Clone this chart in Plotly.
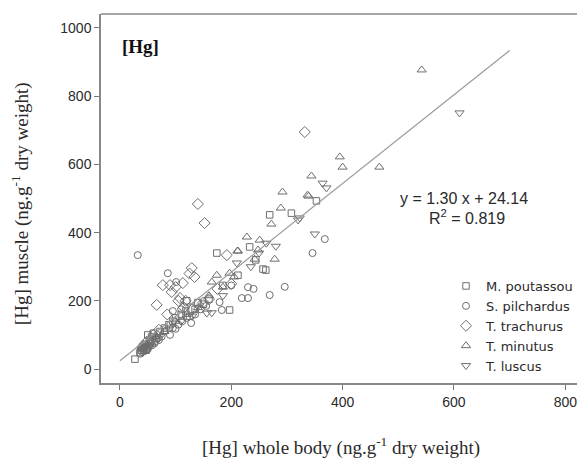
import plotly.graph_objects as go

# ---- data ----
poutassou_x = [27, 38, 42, 45, 50, 55, 60, 65, 72, 80, 88, 95, 100, 110, 118, 125, 135, 140, 150, 160, 174, 185, 197, 212, 233, 244, 257, 269, 308, 353, 262, 120, 36, 41, 47, 53, 58]
poutassou_y = [29, 55, 62, 70, 100, 75, 105, 90, 110, 120, 130, 140, 150, 160, 170, 155, 175, 195, 190, 205, 340, 245, 173, 275, 358, 320, 293, 452, 457, 493, 290, 200, 48, 66, 58, 82, 95]

pilchardus_x = [32, 40, 44, 48, 52, 58, 63, 70, 75, 80, 86, 90, 95, 100, 105, 112, 120, 128, 135, 145, 155, 179, 183, 219, 230, 269, 296, 346, 368, 95, 110, 230, 200, 240, 101, 37, 39, 43, 46, 50, 55, 62, 67]
pilchardus_y = [334, 50, 60, 55, 65, 70, 80, 85, 95, 110, 281, 100, 120, 118, 130, 140, 150, 135, 160, 175, 185, 196, 173, 208, 208, 217, 241, 340, 381, 170, 175, 240, 245, 235, 255, 45, 62, 52, 72, 58, 88, 75, 100]

trachurus_x = [140, 152, 332, 192, 77, 66, 113, 129, 134, 125, 90, 93, 108, 100, 118, 150, 160, 175, 60, 70, 85, 115, 140, 200, 105, 130, 42, 48]
trachurus_y = [484, 428, 695, 334, 246, 188, 252, 296, 270, 280, 246, 226, 208, 240, 200, 195, 205, 235, 100, 115, 160, 180, 190, 250, 200, 175, 68, 80]

minutus_x = [542, 395, 400, 466, 344, 339, 292, 337, 289, 272, 228, 251, 211, 278, 242, 174, 197, 165, 248, 212, 40, 50, 65, 80, 100, 120, 140, 160, 185, 205, 45]
minutus_y = [877, 622, 592, 592, 566, 507, 519, 510, 472, 425, 387, 378, 346, 322, 322, 275, 281, 255, 349, 346, 60, 75, 95, 110, 140, 160, 180, 215, 240, 270, 52]

luscus_x = [610, 364, 371, 350, 320, 210, 263, 323, 45, 55, 70, 90, 110, 130, 156, 165, 185, 235, 250, 280, 38, 52]
luscus_y = [751, 545, 531, 396, 437, 311, 369, 443, 60, 70, 90, 120, 140, 155, 164, 165, 215, 300, 340, 360, 58, 66]

species = ["M. poutassou", "S. pilchardus", "T. trachurus", "T. minutus", "T. luscus"]

slope, intercept, r2 = 1.30, 24.14, 0.819
fit_x = [0, 700]
fit_y = [slope * v + intercept for v in fit_x]

x_ticks = [0, 200, 400, 600, 800]
y_ticks = [0, 200, 400, 600, 800, 1000]

# ---- figure ----
fig = go.Figure()
mcol = "#6e6e6e"
series = [
    (poutassou_x, poutassou_y, "square-open", 6.5),
    (pilchardus_x, pilchardus_y, "circle-open", 7),
    (trachurus_x, trachurus_y, "diamond-open", 8.5),
    (minutus_x, minutus_y, "triangle-up-open", 8),
    (luscus_x, luscus_y, "triangle-down-open", 8),
]
for name, (xs, ys, sym, sz) in zip(species, series):
    fig.add_trace(go.Scatter(
        x=xs, y=ys, mode="markers", name=name,
        marker=dict(symbol=sym, size=sz, color=mcol, line=dict(width=1, color=mcol)),
    ))

fig.add_trace(go.Scatter(x=fit_x, y=fit_y, mode="lines", showlegend=False,
                         line=dict(color="#9a9a9a", width=1.2)))

sans = "Liberation Sans, Arial, sans-serif"
serif = "Liberation Serif, Times New Roman, serif"
tickfont = dict(family=sans, size=14, color="#2a2a2a")
fig.update_layout(
    width=578, height=459,
    margin=dict(l=101, r=0, t=14, b=76),
    plot_bgcolor="white", paper_bgcolor="white",
    xaxis=dict(range=[-34, 821], tickvals=x_ticks, ticks="outside", ticklen=5,
               tickcolor="#777", showline=True, linecolor="#888", linewidth=1.5,
               showgrid=False, zeroline=False, tickfont=tickfont, ticklabeloverflow="allow"),
    yaxis=dict(range=[-41, 1041], tickvals=y_ticks, ticks="outside", ticklen=5,
               tickcolor="#777", showline=True, linecolor="#888", linewidth=1.5,
               showgrid=False, zeroline=False, tickfont=tickfont, ticklabeloverflow="allow"),
    showlegend=True,
    legend=dict(x=(447 - 101) / 477, y=(383 - 271) / 369, xanchor="left", yanchor="top",
                bgcolor="rgba(0,0,0,0)", font=dict(family="DejaVu Sans, sans-serif", size=13, color="#2a2a2a"),
                itemwidth=30),
)

fig.add_shape(type="line", xref="paper", yref="paper", x0=0, x1=1, y0=1, y1=1,
              line=dict(color="#888", width=1.5))

fig.add_annotation(xref="paper", yref="paper", x=(342 - 101) / 477, y=-(446 - 383) / 369,
                   text="[Hg] whole body (ng.g<sup>-1</sup> dry weight)", showarrow=False,
                   font=dict(family=serif, size=19, color="#2a2a2a"), xanchor="center", yanchor="middle")
fig.add_annotation(xref="paper", yref="paper", x=(20 - 101) / 477, y=(383 - 204) / 369,
                   text="[Hg] muscle (ng.g<sup>-1</sup> dry weight)", showarrow=False, textangle=-90,
                   font=dict(family=serif, size=19, color="#2a2a2a"), xanchor="center", yanchor="middle")
fig.add_annotation(x=0, y=(369 - 47) / 0.341, xref="x", yref="y", text="<b>[Hg]</b>", showarrow=False,
                   xanchor="left", yanchor="middle", font=dict(family=serif, size=19, color="#111"))
fig.add_annotation(x=(465 - 120) / 0.5575, y=(369 - 198) / 0.341, xref="x", yref="y",
                   text=f"y = {slope:.2f} x + {intercept:.2f}", showarrow=False,
                   font=dict(family=sans, size=16, color="#2a2a2a"))
fig.add_annotation(x=(468 - 120) / 0.5575, y=(369 - 217) / 0.341, xref="x", yref="y",
                   text=f"R<sup>2</sup> = {r2:.3f}", showarrow=False,
                   font=dict(family=sans, size=16, color="#2a2a2a"))

fig.write_html("out.html")
